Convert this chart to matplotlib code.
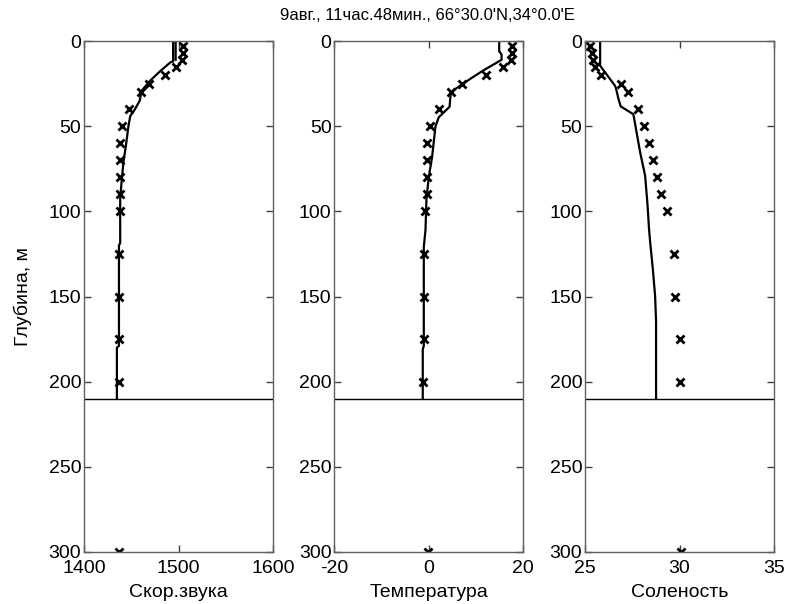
import numpy as np
import matplotlib.pyplot as plt

plt.rcParams['font.family'] = ['Liberation Sans', 'DejaVu Sans']
plt.rcParams['axes.unicode_minus'] = False

# станции (крестики)
depth_pts = [3, 7, 11, 15, 20, 25, 30, 40, 50, 60, 70, 80, 90, 100, 125, 150, 175, 200, 300]
speed_pts = [1505, 1505, 1504, 1497.5, 1486, 1469, 1460, 1448, 1440, 1438, 1438, 1438, 1438, 1438,
             1437, 1437, 1437, 1437, 1437]
temp_pts = [17.7, 17.7, 17.4, 15.6, 12.2, 7.1, 4.8, 2.1, 0.15, -0.35, -0.45, -0.45, -0.45, -0.8,
            -1.06, -1.06, -1.06, -1.28, -0.2]
sal_pts = [25.27, 25.35, 25.4, 25.53, 25.83, 26.89, 27.26, 27.79, 28.13, 28.41, 28.59, 28.83, 29.01,
           29.35, 29.72, 29.77, 30.0, 30.0, 30.1]

# профили (линии)
speed_line_d = [11, 0, 0, 12, 12.5, 17.5, 23.3, 29.2, 35, 40, 44, 50, 60, 71, 81, 93, 110, 118.6, 120,
                179, 180, 210]
speed_line_v = [1497, 1497, 1494.3, 1494.3, 1491.5, 1481, 1470, 1461, 1459, 1454, 1449, 1447, 1444.7,
                1441.8, 1440, 1438.3, 1438.3, 1438.3, 1437, 1437, 1434.8, 1434.8]
temp_line_d = [0, 6, 8, 11, 13, 17, 22, 28.8, 31.7, 38.6, 44.8, 50.3, 68, 79.7, 93, 111, 120.8, 179, 181, 210]
temp_line_v = [14.9, 14.9, 15.4, 15.4, 14.2, 11.7, 8.9, 5.3, 4.6, 4.4, 2.1, 1.4, 0.7, 0.0, -0.5, -0.7,
               -1.06, -1.06, -1.28, -1.28]
sal_line_d = [0, 14.5, 18.4, 26.3, 28.2, 34, 38.4, 43, 51.8, 65.5, 79, 95, 110.6, 118.4, 134, 149.8, 164.5, 210]
sal_line_v = [25.8, 25.8, 26.06, 26.59, 26.65, 26.77, 26.89, 27.56, 27.7, 27.92, 28.18, 28.3, 28.39,
              28.45, 28.59, 28.71, 28.76, 28.76]

bottom_depth = 210

panels = [
    (speed_line_v, speed_line_d, speed_pts, (1400, 1600), [1400, 1500, 1600], 'Скор.звука'),
    (temp_line_v, temp_line_d, temp_pts, (-20, 20), [-20, 0, 20], 'Температура'),
    (sal_line_v, sal_line_d, sal_pts, (25, 35), [25, 30, 35], 'Соленость'),
]

W, H = 787, 604
fig = plt.figure(figsize=(W / 100, H / 100), dpi=100)
lefts = [84, 334.3, 585]
top, bot, wpx = 41, 552, 189

axes = []
for i, (lv, ld, pv, xlim, xt, xl) in enumerate(panels):
    ax = fig.add_axes([lefts[i] / W, (H - bot) / H, wpx / W, (bot - top) / H])
    ax.plot(lv, ld, color='black', lw=1.6)
    ax.plot(pv, depth_pts, 'x', color='black', ms=6, mew=2)
    ax.axhline(bottom_depth, color='black', lw=1)
    ax.set_xlim(xlim)
    ax.set_ylim(300, 0)
    ax.set_xticks(xt)
    ax.set_yticks(range(0, 301, 50))
    ax.tick_params(direction='in', top=True, right=True, length=5, width=1, labelsize=14,
                   color='#404040', pad=2)
    ax.tick_params(axis='x', pad=6)
    for s in ax.spines.values():
        s.set_color('#606060')
        s.set_linewidth(1)
    ax.set_xlabel(xl, fontsize=14, labelpad=5)
    axes.append(ax)

axes[0].set_ylabel('Глубина, м', fontsize=14, labelpad=12)
fig.text(427 / W, 1 - 15 / H, "9авг., 11час.48мин., 66°30.0'N,34°0.0'E", ha='center', va='center',
         fontsize=12)

fig.savefig('out.png', dpi=100)
